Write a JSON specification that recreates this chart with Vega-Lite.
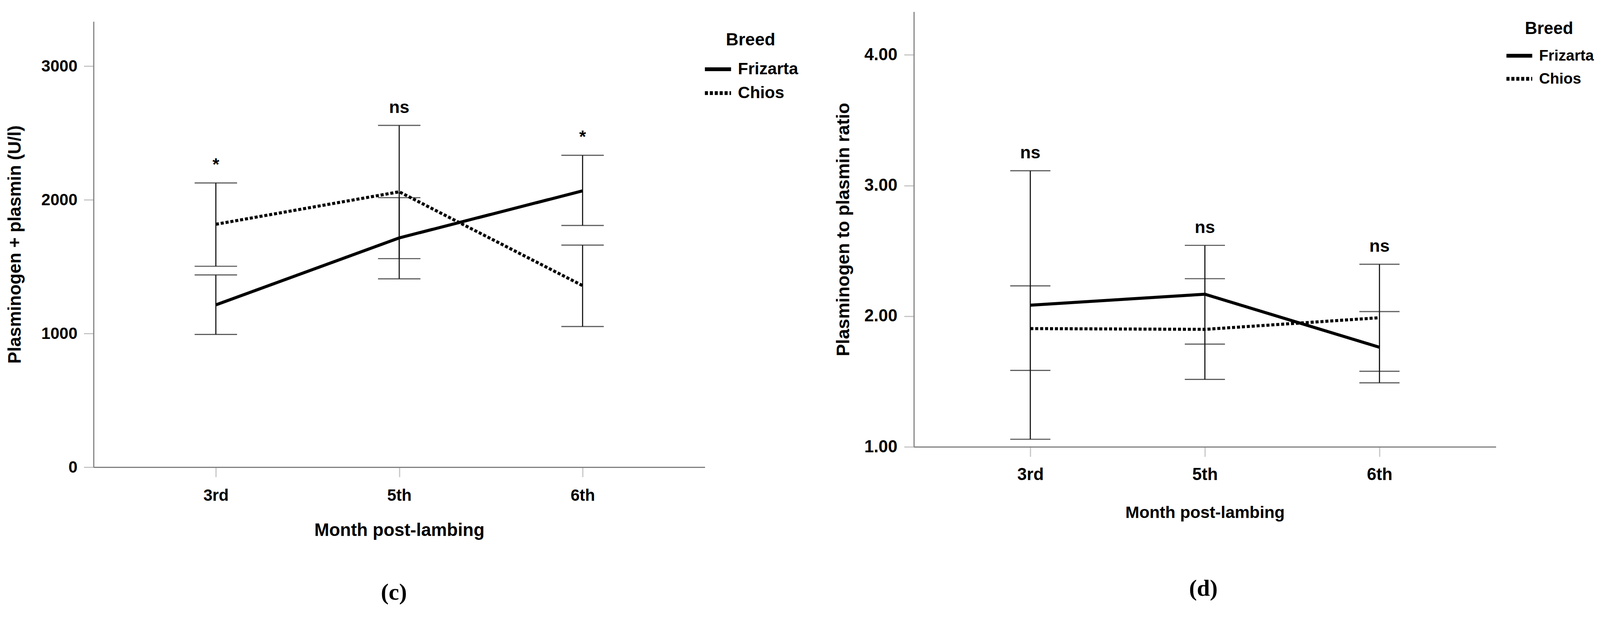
{
  "$schema": "https://vega.github.io/schema/vega-lite/v6.json",
  "background": "white",
  "padding": {"left": 16.5, "top": 30, "right": 0, "bottom": 0},
  "config": {
    "view": {"stroke": null},
    "font": "Liberation Sans",
    "axis": {
      "grid": false,
      "domainColor": "#7f7f7f",
      "domainWidth": 2.9,
      "tickColor": "#c4c4c4",
      "tickWidth": 2.9,
      "tickSize": 25,
      "labelColor": "black",
      "labelFont": "Liberation Sans",
      "labelFontWeight": "bold",
      "titleColor": "black",
      "titleFont": "Liberation Sans",
      "titleFontWeight": "bold"
    },
    "legend": {
      "padding": 0,
      "titleColor": "black",
      "labelColor": "black",
      "titleFont": "Liberation Sans",
      "labelFont": "Liberation Sans",
      "titleFontWeight": "bold",
      "labelFontWeight": "bold",
      "symbolType": "stroke",
      "symbolStrokeColor": "black",
      "titleAnchor": "middle"
    }
  },
  "datasets": {
    "plasmin": [
      {"month": "3rd", "breed": "Frizarta", "mean": 1214, "lower": 993, "upper": 1438, "sig": "*"},
      {"month": "3rd", "breed": "Chios", "mean": 1817, "lower": 1503, "upper": 2126, "sig": "*"},
      {"month": "5th", "breed": "Frizarta", "mean": 1715, "lower": 1409, "upper": 2016, "sig": "ns"},
      {"month": "5th", "breed": "Chios", "mean": 2060, "lower": 1560, "upper": 2557, "sig": "ns"},
      {"month": "6th", "breed": "Frizarta", "mean": 2067, "lower": 1808, "upper": 2333, "sig": "*"},
      {"month": "6th", "breed": "Chios", "mean": 1358, "lower": 1052, "upper": 1661, "sig": "*"}
    ],
    "ratio": [
      {"month": "3rd", "breed": "Frizarta", "mean": 2.084, "lower": 1.058, "upper": 3.113, "sig": "ns"},
      {"month": "3rd", "breed": "Chios", "mean": 1.905, "lower": 1.585, "upper": 2.232, "sig": "ns"},
      {"month": "5th", "breed": "Frizarta", "mean": 2.168, "lower": 1.786, "upper": 2.542, "sig": "ns"},
      {"month": "5th", "breed": "Chios", "mean": 1.899, "lower": 1.516, "upper": 2.287, "sig": "ns"},
      {"month": "6th", "breed": "Frizarta", "mean": 1.762, "lower": 1.490, "upper": 2.035, "sig": "ns"},
      {"month": "6th", "breed": "Chios", "mean": 1.988, "lower": 1.578, "upper": 2.397, "sig": "ns"}
    ]
  },
  "resolve": {"scale": {"strokeDash": "independent"}, "legend": {"strokeDash": "independent"}},
  "spacing": 92,
  "hconcat": [
    {
      "spacing": 20,
      "vconcat": [
        {"width": 1, "height": 5, "data": {"values": []}, "mark": "point"},
        {
          "width": 1565,
          "height": 1140,
          "data": {"name": "plasmin"},
          "title": {"text": "(c)", "orient": "bottom", "font": "Liberation Serif", "fontSize": 60, "fontWeight": "bold", "color": "black", "frame": "group", "anchor": "middle", "dx": -13.6, "offset": 107},
          "encoding": {
            "x": {
              "field": "month", "type": "ordinal", "sort": ["3rd", "5th", "6th"],
              "scale": {"type": "point", "padding": 0.667},
              "axis": {"title": "Month post-lambing", "labelAngle": 0, "labelFontSize": 41.7, "titleFontSize": 45.6, "labelPadding": 27, "titlePadding": 45.6}
            }
          },
          "layer": [
            {
              "mark": {"type": "rule", "strokeWidth": 2.9, "color": "#1a1a1a"},
              "encoding": {
                "y": {
                  "field": "lower", "type": "quantitative",
                  "scale": {"domain": [0, 3334], "nice": false},
                  "title": "Plasminogen + plasmin (U/l)",
                  "axis": {"values": [0, 1000, 2000, 3000], "format": "d", "labelFontSize": 41.7, "titleFontSize": 45.6, "labelPadding": 16.5, "titlePadding": 42.7}
                },
                "y2": {"field": "upper"}
              }
            },
            {
              "mark": {"type": "tick", "thickness": 2.9, "size": 108.6, "color": "#1a1a1a"},
              "encoding": {"y": {"field": "lower", "type": "quantitative", "title": "Plasminogen + plasmin (U/l)"}}
            },
            {
              "mark": {"type": "tick", "thickness": 2.9, "size": 108.6, "color": "#1a1a1a"},
              "encoding": {"y": {"field": "upper", "type": "quantitative", "title": "Plasminogen + plasmin (U/l)"}}
            },
            {
              "mark": {"type": "line", "color": "black", "strokeWidth": 7.8, "strokeCap": "butt"},
              "encoding": {
                "y": {"field": "mean", "type": "quantitative", "title": "Plasminogen + plasmin (U/l)"},
                "strokeDash": {
                  "field": "breed", "type": "nominal",
                  "scale": {"domain": ["Frizarta", "Chios"], "range": [[1, 0], [7.8, 4.8]]},
                  "legend": {"title": "Breed", "orient": "none", "legendX": 1560, "legendY": 51.4, "titleFontSize": 44.6, "labelFontSize": 42.7, "symbolSize": 4476, "symbolStrokeWidth": 9.7, "labelOffset": 12.6, "titlePadding": 12.6, "rowPadding": -3.9}
                }
              }
            },
            {
              "transform": [{"aggregate": [{"op": "max", "field": "upper", "as": "top"}], "groupby": ["month", "sig"]}],
              "mark": {"type": "text", "fontSize": 44.6, "fontWeight": "bold", "color": "black", "baseline": "alphabetic", "dy": -32},
              "encoding": {
                "y": {"field": "top", "type": "quantitative", "title": "Plasminogen + plasmin (U/l)"},
                "text": {"field": "sig"}
              }
            }
          ]
        }
      ]
    },
    {
      "width": 1490,
      "height": 1113,
      "data": {"name": "ratio"},
      "title": {"text": "(d)", "orient": "bottom", "font": "Liberation Serif", "fontSize": 60, "fontWeight": "bold", "color": "black", "frame": "group", "anchor": "middle", "dx": -3.9, "offset": 144.5},
      "encoding": {
        "x": {
          "field": "month", "type": "ordinal", "sort": ["3rd", "5th", "6th"],
          "scale": {"type": "point", "padding": 0.667},
          "axis": {"title": "Month post-lambing", "labelAngle": 0, "labelFontSize": 43.6, "titleFontSize": 42.7, "labelPadding": 25.2, "titlePadding": 54.3}
        }
      },
      "layer": [
        {
          "mark": {"type": "rule", "strokeWidth": 2.9, "color": "#1a1a1a"},
          "encoding": {
            "y": {
              "field": "lower", "type": "quantitative",
              "scale": {"domain": [1, 4.33], "nice": false, "zero": false},
              "title": "Plasminogen to plasmin ratio",
              "axis": {"values": [1, 2, 3, 4], "format": ".2f", "labelFontSize": 43.6, "titleFontSize": 46.5, "labelPadding": 17.5, "titlePadding": 29.1}
            },
            "y2": {"field": "upper"}
          }
        },
        {
          "mark": {"type": "tick", "thickness": 2.9, "size": 102.8, "color": "#1a1a1a"},
          "encoding": {"y": {"field": "lower", "type": "quantitative", "title": "Plasminogen to plasmin ratio"}}
        },
        {
          "mark": {"type": "tick", "thickness": 2.9, "size": 102.8, "color": "#1a1a1a"},
          "encoding": {"y": {"field": "upper", "type": "quantitative", "title": "Plasminogen to plasmin ratio"}}
        },
        {
          "mark": {"type": "line", "color": "black", "strokeWidth": 7.8, "strokeCap": "butt"},
          "encoding": {
            "y": {"field": "mean", "type": "quantitative", "title": "Plasminogen to plasmin ratio"},
            "strokeDash": {
              "field": "breed", "type": "nominal",
              "scale": {"domain": ["Frizarta", "Chios"], "range": [[1, 0], [7.8, 4.8]]},
              "legend": {"title": "Breed", "orient": "none", "legendX": 1512, "legendY": 23.3, "titleFontSize": 43.6, "labelFontSize": 38.8, "symbolSize": 4356, "symbolStrokeWidth": 9.7, "labelOffset": 12.6, "titlePadding": 7.8, "rowPadding": 1}
            }
          }
        },
        {
          "transform": [{"aggregate": [{"op": "max", "field": "upper", "as": "top"}], "groupby": ["month", "sig"]}],
          "mark": {"type": "text", "fontSize": 44.6, "fontWeight": "bold", "color": "black", "baseline": "alphabetic", "dy": -32},
          "encoding": {
            "y": {"field": "top", "type": "quantitative", "title": "Plasminogen to plasmin ratio"},
            "text": {"field": "sig"}
          }
        }
      ]
    }
  ]
}
